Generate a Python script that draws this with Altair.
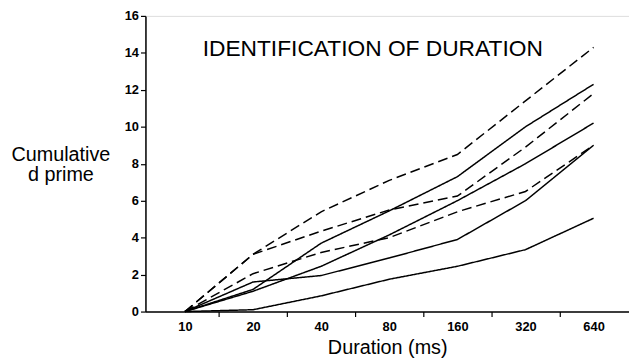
import altair as alt
import pandas as pd

durations = [10, 20, 40, 80, 160, 320, 640]
d1 = [0, 3.1, 5.4, 7.1, 8.5, 11.4, 14.3]
d2 = [0, 3.1, 4.35, 5.5, 6.25, 8.9, 11.8]
d3 = [0, 2.05, 3.2, 4.0, 5.4, 6.5, 9.0]
s1 = [0, 1.2, 3.7, 5.45, 7.3, 10.0, 12.3]
s2 = [0, 1.1, 2.45, 4.15, 6.0, 8.0, 10.2]
s3 = [0, 1.6, 1.95, 2.9, 3.9, 6.0, 9.0]
s4 = [0, 0.1, 0.85, 1.75, 2.45, 3.35, 5.05]
y_ticks = [0, 2, 4, 6, 8, 10, 12, 14, 16]

series = {"d1": (d1, "dashed"), "d2": (d2, "dashed"), "d3": (d3, "dashed"),
          "s1": (s1, "solid"), "s2": (s2, "solid"), "s3": (s3, "solid"), "s4": (s4, "solid")}

rows = []
for name, (vals, style) in series.items():
    for i, (d, v) in enumerate(zip(durations, vals)):
        rows.append({"series": name, "style": style, "idx": i, "duration": d, "dprime": v})
df = pd.DataFrame(rows)

FONT = "Liberation Sans"
label_expr = "{0:'10',1:'20',2:'40',3:'80',4:'160',5:'320',6:'640'}[datum.value]"

xscale = alt.Scale(domain=[-0.58, 6.52], nice=False, zero=False)
yscale = alt.Scale(domain=[0, 16], nice=False)

yaxis = alt.Axis(values=y_ticks, grid=False, domainColor="black",
                 domainWidth=1.5, tickColor="black", tickSize=5, tickWidth=1.2,
                 labelFont=FONT, labelFontWeight="bold", labelFontSize=13,
                 labelColor="black", labelPadding=2, labelOverlap=False,
                 labelFlush=False,
                 title=["Cumulative", "d prime"], titleFont=FONT, titleFontSize=20,
                 titleFontWeight="normal", titleColor="black", titleAngle=0,
                 titleAlign="center", titleBaseline="alphabetic",
                 titleX=-86, titleY=146, titleLineHeight=20)

lines = alt.Chart(df).mark_line(color="black", strokeWidth=1.5).encode(
    x=alt.X("idx:Q", scale=xscale,
            axis=alt.Axis(values=list(range(7)), labelExpr=label_expr, ticks=False,
                          grid=False, domain=True, domainColor="black", domainWidth=1.5,
                          labelFont=FONT, labelFontWeight="bold", labelFontSize=13,
                          labelColor="black", labelPadding=9, labelOverlap=False,
                          title="Duration (ms)", titleFont=FONT, titleFontSize=20,
                          titleFontWeight="normal", titleColor="black",
                          titleBaseline="alphabetic", titleY=42, orient="bottom")),
    y=alt.Y("dprime:Q", scale=yscale, axis=yaxis),
    detail="series:N",
    strokeDash=alt.StrokeDash("style:N",
                              scale=alt.Scale(domain=["solid", "dashed"], range=[[1, 0], [10, 5]]),
                              legend=None),
)

title_df = pd.DataFrame({"label": ["IDENTIFICATION OF DURATION"], "idx": [0.26], "dprime": [14.2]})
title = alt.Chart(title_df).mark_text(font=FONT, fontSize=23, align="left",
                                       baseline="middle", color="black").encode(
    x=alt.X("idx:Q", scale=xscale,
            axis=alt.Axis(values=[0.5, 1.5, 2.5, 3.5, 4.5, 5.5], labels=False, ticks=True,
                          tickSize=5, tickColor="black", tickWidth=1.2, domain=False,
                          grid=False, title=None, orient="bottom")),
    y=alt.Y("dprime:Q", scale=yscale, axis=yaxis),
    text="label:N",
)

chart = alt.layer(lines, title).resolve_axis(x="independent").properties(
    width=489, height=299,
    autosize=alt.AutoSizeParams(type="none"),
    padding={"left": 139, "top": 6, "right": 0, "bottom": 48},
).configure_view(stroke="black", strokeWidth=1.2).configure(background="white")

chart.save("out.html", embed_options={"renderer": "svg", "actions": False})
